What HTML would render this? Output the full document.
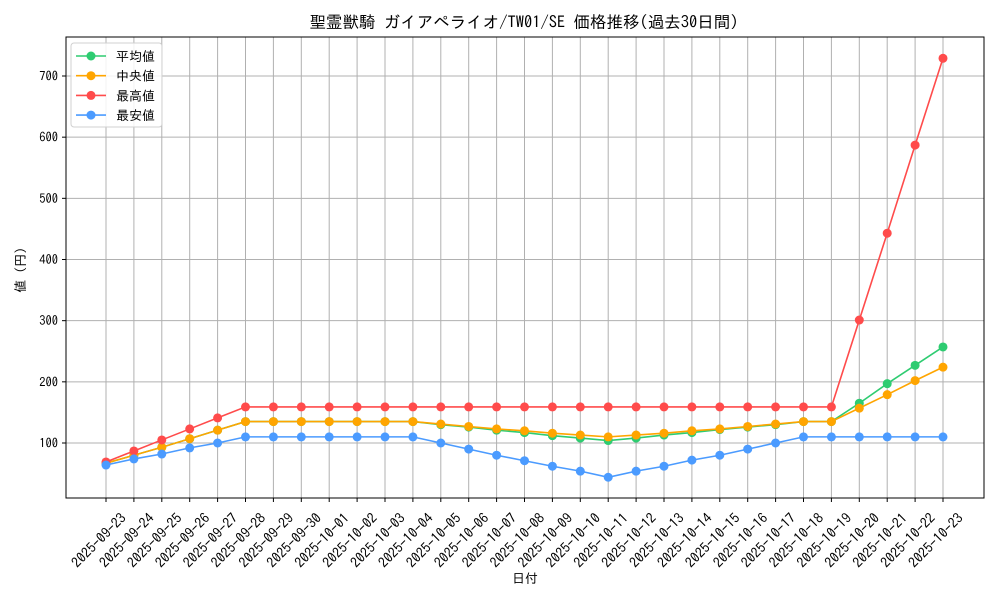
<!DOCTYPE html>
<html><head><meta charset="utf-8">
<style>
html,body{margin:0;padding:0;background:#fff;}
svg{display:block;font-family:"IPAGothic","Noto Sans CJK JP",sans-serif;}
</style></head>
<body>
<svg id="chart" width="1000" height="600" viewBox="0 0 1000 600"></svg>
<script>
const dates=["2025-09-23","2025-09-24","2025-09-25","2025-09-26","2025-09-27","2025-09-28","2025-09-29","2025-09-30","2025-10-01","2025-10-02","2025-10-03","2025-10-04","2025-10-05","2025-10-06","2025-10-07","2025-10-08","2025-10-09","2025-10-10","2025-10-11","2025-10-12","2025-10-13","2025-10-14","2025-10-15","2025-10-16","2025-10-17","2025-10-18","2025-10-19","2025-10-20","2025-10-21","2025-10-22","2025-10-23"];
const avgValues=[67,80,93,107,121,135,135,135,135,135,135,135,130,126,121,117,112,108,104,108,113,117,122,126,130,135,135,165,197,227,257];
const medValues=[67,80,93,107,121,135,135,135,135,135,135,135,131,127,123,120,116,113,110,113,116,120,123,127,131,135,135,157,179,202,224];
const maxValues=[69,87,105,123,141,159,159,159,159,159,159,159,159,159,159,159,159,159,159,159,159,159,159,159,159,159,159,301,443,587,729];
const minValues=[64,74,82,92,100,110,110,110,110,110,110,110,100,90,80,71,62,54,44,54,62,72,80,90,100,110,110,110,110,110,110];
const yTicks=[100,200,300,400,500,600,700];
const seriesNames=["平均値","中央値","最高値","最安値"];

const NS="http://www.w3.org/2000/svg";
const svg=document.getElementById('chart');
const L=66,R=984,T=37,B=498;
function x(i){return 106+i*(943-106)/(dates.length-1);}
function y(v){return 443-(v-100)*(367/600);}
function el(tag,attrs,parent){const e=document.createElementNS(NS,tag);for(const k in attrs)e.setAttribute(k,attrs[k]);(parent||svg).appendChild(e);return e;}

const grid=el('g',{});


dates.forEach((d,i)=>{
  const g=el('line',{x1:x(i),x2:x(i),y1:T,y2:B,stroke:'#b0b0b0','stroke-width':1},grid);
  
  
});
yTicks.forEach(v=>{
  const g=el('line',{x1:L,x2:R,y1:y(v),y2:y(v),stroke:'#b0b0b0','stroke-width':1},grid);
  
  
});

const xa=el('g',{});


dates.forEach((d,i)=>{
  el('line',{x1:x(i),x2:x(i),y1:B,y2:B+4,stroke:'#000'},xa);
  const tx=x(i)+21, ty=B+21;
  const t=el('text',{x:tx,y:ty,'font-size':14,'text-anchor':'end',transform:`rotate(-45 ${tx} ${ty})`},xa);
  t.textContent=d;
  
  
});
const ya=el('g',{});


yTicks.forEach(v=>{
  el('line',{x1:L-4,x2:L,y1:y(v),y2:y(v),stroke:'#000'},ya);
  const t=el('text',{x:L-8,y:y(v)+4.5,'font-size':12.5,'text-anchor':'end'},ya);
  t.textContent=v;
  
  
});
const frame=el('rect',{x:L,y:T,width:R-L,height:B-T,fill:'none',stroke:'#000','stroke-width':1});



const colors=['#2ecc71','#ffa500','#ff4b4b','#4b9bff'];
[avgValues,medValues,maxValues,minValues].forEach((vals,si)=>{
  const g=el('g',{});
  
  
  el('polyline',{points:vals.map((v,i)=>x(i)+','+y(v)).join(' '),fill:'none',stroke:colors[si],'stroke-width':1.6},g);
  vals.forEach((v,i)=>{
    const c=el('circle',{cx:x(i),cy:y(v),r:4.5,fill:colors[si]},g);
    
    
  });
});

const title=el('text',{x:524,y:28,'font-size':16.5,'text-anchor':'middle'});
title.textContent='聖霊獣騎 ガイアペライオ/TW01/SE 価格推移(過去30日間)';


const xt=el('text',{x:525,y:583,'font-size':13,'text-anchor':'middle'});
xt.textContent='日付';


const yt=el('text',{x:25,y:270,'font-size':13,'text-anchor':'middle',transform:'rotate(-90 25 270)'});
yt.textContent='値 (円)';



const lg=el('g',{});


el('rect',{x:71,y:43,width:91,height:84,rx:3,fill:'#fff','fill-opacity':0.85,stroke:'#d0d0d0'},lg);
seriesNames.forEach((n,i)=>{
  const yy=56+i*19.7;
  const e=el('g',{},lg);
  
  
  el('line',{x1:76,x2:106,y1:yy,y2:yy,stroke:colors[i],'stroke-width':1.6},e);
  el('circle',{cx:91,cy:yy,r:4.5,fill:colors[i]},e);
  const t=el('text',{x:116,y:yy+5,'font-size':13},e);
  t.textContent=n;
});
</script>
</body></html>
